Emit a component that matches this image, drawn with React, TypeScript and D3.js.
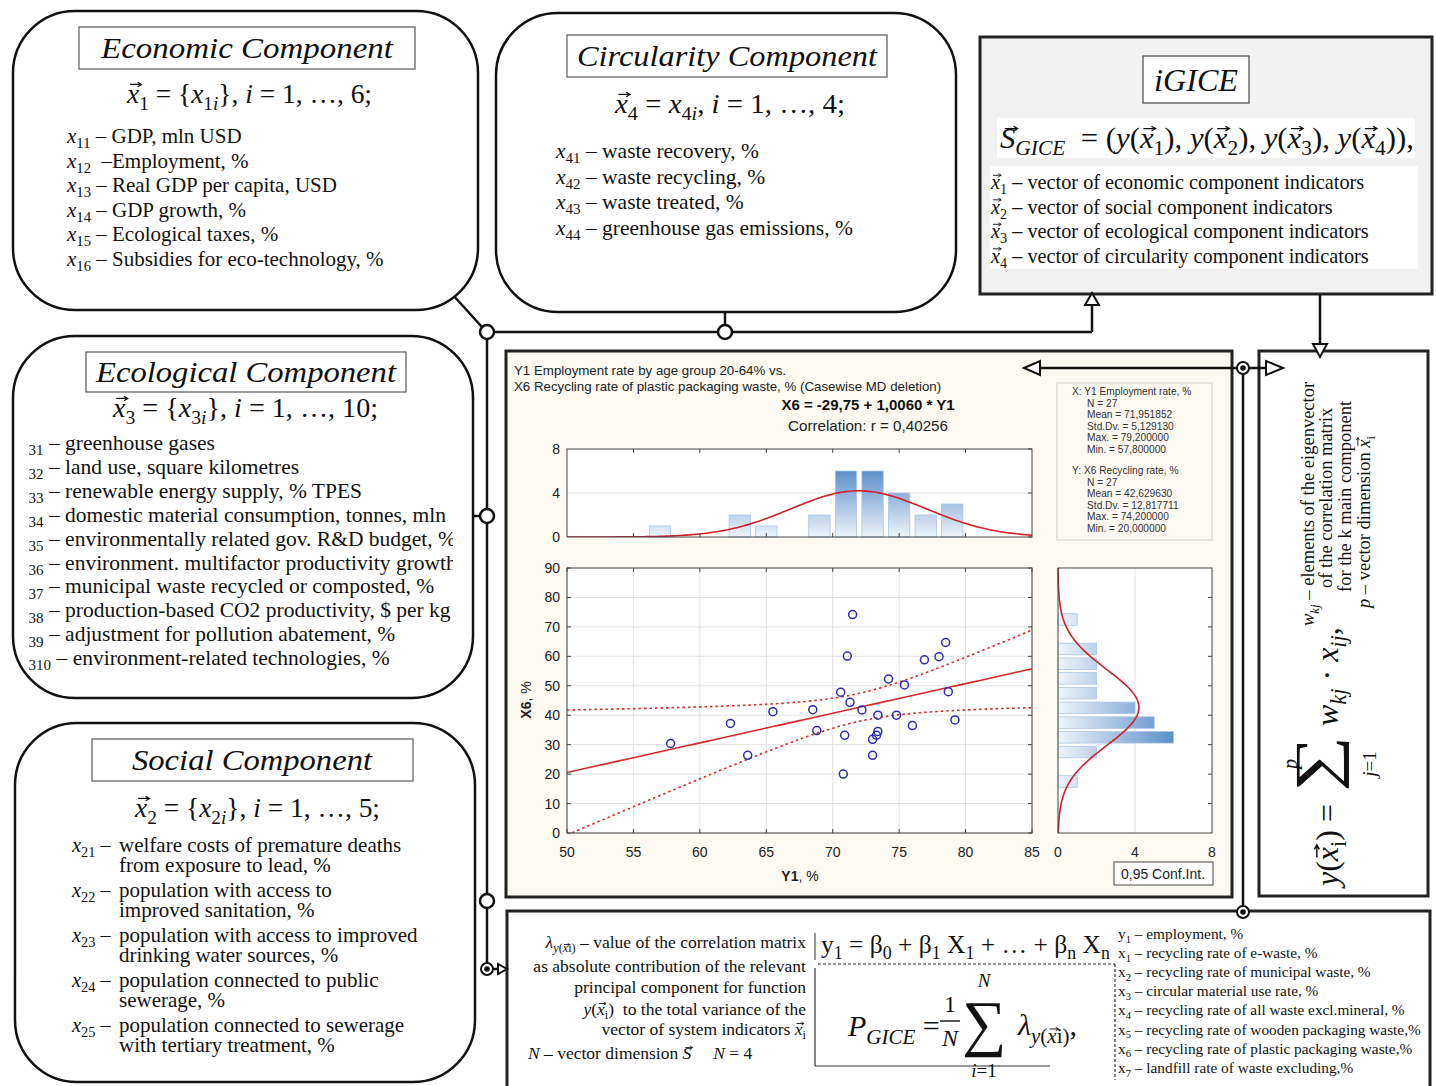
import { useLayoutEffect, useRef } from 'react';
import * as d3 from 'd3';

const SERIF = '"Liberation Serif", "Times New Roman", serif';
const SANS = '"Liberation Sans", Arial, sans-serif';

// scatter: Y1 employment rate (x) vs X6 recycling rate of plastic packaging (y)
const y1Values = [57.8, 62.3, 63.6, 65.5, 68.5, 68.8, 70.6, 70.8, 70.9, 71.1, 71.3, 71.5, 72.2, 73.0, 73.0, 73.3, 73.4, 73.4, 74.2, 74.8, 75.4, 76.0, 76.9, 78.0, 78.5, 78.7, 79.2];
const x6Values = [30.4, 37.2, 26.4, 41.2, 41.9, 34.8, 47.8, 20.0, 33.2, 60.1, 44.4, 74.2, 41.8, 31.8, 26.4, 33.2, 34.5, 40.0, 52.3, 40.0, 50.3, 36.5, 58.8, 59.9, 64.7, 48.0, 38.4];

const intercept = -29.75;
const slope = 1.006;
const y1Mean = 71.951852;
const y1Sd = 5.12913;
const x6Mean = 42.62963;
const x6Sd = 12.817711;
const tCrit = 2.0595;

const xStatLines = ['N = 27', 'Mean = 71,951852', 'Std.Dv. = 5,129130', 'Max. = 79,200000', 'Min. = 57,800000'];
const yStatLines = ['N = 27', 'Mean = 42,629630', 'Std.Dv. = 12,817711', 'Max. = 74,200000', 'Min. = 20,000000'];

const scatterXTicks = [50, 55, 60, 65, 70, 75, 80, 85];
const scatterYTicks = [0, 10, 20, 30, 40, 50, 60, 70, 80, 90];
const histTicks = [0, 4, 8];

// markup: *..* italic, _{..} subscript, ^{..} superscript, #x vector letter
const economicItems = [
  '*x*_{11} – GDP, mln USD',
  '*x*_{12}  –Employment, %',
  '*x*_{13} – Real GDP per capita, USD',
  '*x*_{14} – GDP growth, %',
  '*x*_{15} – Ecological taxes, %',
  '*x*_{16} – Subsidies for eco-technology, %',
];
const circularityItems = [
  '*x*_{41} – waste recovery, %',
  '*x*_{42} – waste recycling, %',
  '*x*_{43} – waste treated, %',
  '*x*_{44} – greenhouse gas emissions, %',
];
const ecologicalItems = [
  '*x*_{31} – greenhouse gases',
  '*x*_{32} – land use, square kilometres',
  '*x*_{33} – renewable energy supply, % TPES',
  '*x*_{34} – domestic material consumption, tonnes, mln',
  '*x*_{35} – environmentally related gov. R&D budget, %',
  '*x*_{36} – environment. multifactor productivity growth',
  '*x*_{37} – municipal waste recycled or composted, %',
  '*x*_{38} – production-based CO2 productivity, $ per kg',
  '*x*_{39} – adjustment for pollution abatement, %',
  '*x*_{310} – environment-related technologies, %',
];
const socialItems = [
  ['*x*_{21} –', 'welfare costs of premature deaths', 'from exposure to lead, %'],
  ['*x*_{22} –', 'population with access to', 'improved sanitation, %'],
  ['*x*_{23} –', 'population with access to improved', 'drinking water sources, %'],
  ['*x*_{24} –', 'population connected to public', 'sewerage, %'],
  ['*x*_{25} –', 'population connected to sewerage', 'with tertiary treatment, %'],
];
const igiceItems = [
  '*#x*_{1} – vector of economic component indicators',
  '*#x*_{2} – vector of social component indicators',
  '*#x*_{3} – vector of ecological component indicators',
  '*#x*_{4} – vector of circularity component indicators',
];
const lambdaLines = [
  '*λ*_{*y*(*#x*i)} – value of the correlation matrix',
  'as absolute contribution of the relevant',
  'principal component for function',
  '*y*(*#x*_{i})  to the total variance of the',
  'vector of system indicators *#x*_{i}',
];
const variableItems = [
  'y_{1} – employment, %',
  'x_{1} – recycling rate of e-waste, %',
  'x_{2} – recycling rate of municipal waste, %',
  'x_{3} – circular material use rate, %',
  'x_{4} – recycling rate of all waste excl.mineral, %',
  'x_{5} – recycling rate of wooden packaging waste,%',
  'x_{6} – recycling rate of plastic packaging waste,%',
  'x_{7} – landfill rate of waste excluding,%',
];

type Seg = { t: string; shift: number; it: boolean; vec: boolean };

function parseRich(src: string): Seg[] {
  const segs: Seg[] = [];
  let it = false;
  let shift = 0;
  let buf = '';
  const push = () => {
    if (buf) segs.push({ t: buf, shift, it, vec: false });
    buf = '';
  };
  for (let i = 0; i < src.length; i++) {
    const c = src[i];
    if (c === '*') {
      push();
      it = !it;
    } else if (c === '#') {
      push();
      segs.push({ t: src[i + 1], shift, it, vec: true });
      i++;
    } else if ((c === '_' || c === '^') && src[i + 1] === '{') {
      push();
      shift = c === '_' ? 1 : -1;
      i++;
    } else if (c === '}' && shift !== 0) {
      push();
      shift = 0;
    } else buf += c;
  }
  push();
  return segs;
}

function Rich({
  x = 0,
  y = 0,
  text,
  size,
  anchor = 'start',
  family = SERIF,
  italic = false,
  fill = '#111',
  transform,
  textLength,
}: {
  x?: number;
  y?: number;
  text: string;
  size: number;
  anchor?: string;
  family?: string;
  italic?: boolean;
  fill?: string;
  transform?: string;
  textLength?: number;
}) {
  let cur = 0;
  return (
    <text
      x={x}
      y={y}
      fontSize={size}
      fontFamily={family}
      textAnchor={anchor}
      fill={fill}
      transform={transform}
      textLength={textLength}
      lengthAdjust={textLength ? 'spacingAndGlyphs' : undefined}
      style={{ whiteSpace: 'pre' }}
    >
      {parseRich(text).map((s, i) => {
        const target = s.shift === 1 ? size * 0.25 : s.shift === -1 ? -size * 0.42 : 0;
        const dy = target - cur;
        cur = target;
        return (
          <tspan
            key={i}
            className={s.vec ? 'vec' : undefined}
            dy={dy || undefined}
            fontSize={s.shift ? size * 0.7 : undefined}
            fontStyle={s.it !== italic ? 'italic' : 'normal'}
          >
            {s.t}
          </tspan>
        );
      })}
    </text>
  );
}

function TitleBox({ x, y, w, h, label, cx, by, len }: { x: number; y: number; w: number; h: number; label: string; cx: number; by: number; len: number }) {
  return (
    <g>
      <rect x={x} y={y} width={w} height={h} fill="#fff" stroke="#666" strokeWidth={1.3} />
      <text x={cx} y={by} fontFamily={SERIF} fontStyle="italic" fontSize={30} textAnchor="middle" fill="#111" textLength={len} lengthAdjust="spacingAndGlyphs">
        {label}
      </text>
    </g>
  );
}

const pdf = (v: number, m: number, s: number) => Math.exp(-0.5 * ((v - m) / s) ** 2) / (s * Math.sqrt(2 * Math.PI));

export default function App() {
  const svgRef = useRef<SVGSVGElement>(null);
  const n = y1Values.length;

  // little arrows over vector letters, placed from the laid-out glyphs
  useLayoutEffect(() => {
    const draw = () => {
      const svg = svgRef.current;
      if (!svg) return;
      const layer = d3.select(svg).select('#vecLayer');
      layer.selectAll('*').remove();
      svg.querySelectorAll('tspan.vec').forEach((node) => {
        const ts = node as SVGTSpanElement;
        const bb = ts.getBBox();
        const textEl = ts.closest('text');
        if (!textEl || !bb.width) return;
        const fs = parseFloat(getComputedStyle(ts).fontSize);
        const base = bb.y + bb.height * 0.805;
        const yy = base - fs * 0.66;
        const x0 = bb.x + bb.width * 0.3;
        const x1 = bb.x + bb.width + fs * 0.06;
        const h = fs * 0.08;
        layer
          .append('path')
          .attr('transform', textEl.getAttribute('transform') || null)
          .attr('d', `M${x0},${yy}H${x1}M${x1 - h * 1.7},${yy - h}L${x1},${yy}L${x1 - h * 1.7},${yy + h}`)
          .attr('fill', 'none')
          .attr('stroke', '#111')
          .attr('stroke-width', Math.max(0.9, fs * 0.045));
      });
    };
    draw();
    if (document.fonts) document.fonts.ready.then(draw);
  }, []);

  const xS = d3.scaleLinear().domain([50, 85]).range([567, 1032]);
  const yS = d3.scaleLinear().domain([0, 90]).range([833, 568]);
  const topY = d3.scaleLinear().domain([0, 8]).range([537, 449]);
  const rightX = d3.scaleLinear().domain([0, 8]).range([1058, 1212]);

  // right-closed bins, like the source histograms
  const topBins = d3.range(50, 84, 2).map((lo) => ({ lo, hi: lo + 2, count: y1Values.filter((v) => v > lo && v <= lo + 2).length }));
  const rightBins = d3.range(0, 90, 5).map((lo) => ({ lo, hi: lo + 5, count: x6Values.filter((v) => v > lo && v <= lo + 5).length }));

  // regression + 95% confidence band
  const fit = (v: number) => intercept + slope * v;
  const xMean = d3.mean(y1Values) as number;
  const sxx = d3.sum(y1Values, (v) => (v - xMean) ** 2);
  const sRes = Math.sqrt(d3.sum(y1Values.map((v, i) => (x6Values[i] - fit(v)) ** 2)) / (n - 2));
  const band = (v: number, sign: number) => fit(v) + sign * tCrit * sRes * Math.sqrt(1 / n + (v - xMean) ** 2 / sxx);
  const xs = d3.range(50, 85.01, 0.5);
  const line = d3.line<number>().x((v) => xS(v)).y((v) => yS(fit(v)));
  const upper = d3.line<number>().x((v) => xS(v)).y((v) => yS(band(v, 1)));
  const lower = d3.line<number>().x((v) => xS(v)).y((v) => yS(band(v, -1)));

  const topCurve = d3
    .line<number>()
    .x((v) => xS(v))
    .y((v) => topY(n * 2 * pdf(v, y1Mean, y1Sd)))
    .curve(d3.curveBasis)(d3.range(50, 85.01, 0.25));
  const rightCurve = d3
    .line<number>()
    .x((v) => rightX(n * 5 * pdf(v, x6Mean, x6Sd)))
    .y((v) => yS(v))
    .curve(d3.curveBasis)(d3.range(0, 90.01, 0.5));

  const circle = (cx: number, cy: number, key: string) => <circle key={key} cx={cx} cy={cy} r={7} fill="#fff" stroke="#111" strokeWidth={2.5} />;
  const target = (cx: number, cy: number, key: string) => (
    <g key={key}>
      <circle cx={cx} cy={cy} r={6} fill="#fff" stroke="#111" strokeWidth={2} />
      <circle cx={cx} cy={cy} r={2.8} fill="#111" />
    </g>
  );

  return (
    <svg ref={svgRef} width={1436} height={1086} style={{ position: 'absolute', left: 0, top: 0, background: '#fff' }} fontFamily={SERIF}>
      <defs>
        <clipPath id="ecoClip">
          <rect x={29} y={425} width={424} height={260} />
        </clipPath>
        <clipPath id="varClip">
          <rect x={1110} y={920} width={316} height={160} />
        </clipPath>
        <clipPath id="plotClip">
          <rect x={567} y={568} width={465} height={265} />
        </clipPath>
        <clipPath id="topClip">
          <rect x={567} y={449} width={465} height={88} />
        </clipPath>
        <linearGradient id="gTop" gradientUnits="userSpaceOnUse" x1={0} y1={537} x2={0} y2={449}>
          <stop offset="0" stopColor="#eef4fb" />
          <stop offset="1" stopColor="#2d6db8" />
        </linearGradient>
        <linearGradient id="gRight" gradientUnits="userSpaceOnUse" x1={1058} y1={0} x2={1212} y2={0}>
          <stop offset="0" stopColor="#eef4fb" />
          <stop offset="1" stopColor="#2d6db8" />
        </linearGradient>
      </defs>

      {/* connectors (drawn first) */}
      <g stroke="#111" strokeWidth={2.5} fill="none">
        <line x1={452} y1={294} x2={482} y2={327} />
        <line x1={487} y1={332} x2={487} y2={969} />
        <line x1={487} y1={332} x2={1092} y2={332} />
        <line x1={1092} y1={332} x2={1092} y2={304} />
        <line x1={725} y1={312} x2={725} y2={325} />
        <line x1={472} y1={516} x2={487} y2={516} />
        <line x1={1320} y1={294} x2={1320} y2={344} />
        <line x1={487} y1={969} x2={499} y2={969} />
      </g>

      {/* Economic component */}
      <rect x={13} y={11} width={465} height={299} rx={62} fill="#fff" stroke="#111" strokeWidth={2.5} />
      <TitleBox x={79} y={27} w={336} h={42} label="Economic Component" cx={247} by={58} len={292} />
      <Rich x={127} y={103} size={28} textLength={245} text="*#x*_{1} = {*x*_{1*i*}}, *i* = 1, …, 6;" />
      {economicItems.map((t, i) => (
        <Rich key={t} x={67} y={143 + i * 24.5} size={21} text={t} />
      ))}

      {/* Circularity component */}
      <rect x={496} y={13} width={460} height={299} rx={62} fill="#fff" stroke="#111" strokeWidth={2.5} />
      <TitleBox x={567} y={35} w={320} h={42} label="Circularity Component" cx={727} by={66} len={300} />
      <Rich x={615} y={113} size={28} textLength={230} text="*#x*_{4} = *x*_{4*i*}, *i* = 1, …, 4;" />
      {circularityItems.map((t, i) => (
        <Rich key={t} x={556} y={158 + i * 25.5} size={21.5} text={t} />
      ))}

      {/* Ecological component */}
      <rect x={13} y={336} width={460} height={362} rx={62} fill="#fff" stroke="#111" strokeWidth={2.5} />
      <TitleBox x={86} y={352} w={320} h={40} label="Ecological Component" cx={246} by={382} len={300} />
      <Rich x={113} y={417} size={28} textLength={265} text="*#x*_{3} = {*x*_{3*i*}}, *i* = 1, …, 10;" />
      <g clipPath="url(#ecoClip)">
        {ecologicalItems.map((t, i) => (
          <Rich key={t} x={19} y={450 + i * 23.9} size={21.5} text={t} />
        ))}
      </g>

      {/* Social component */}
      <rect x={15} y={723} width={460} height={359} rx={62} fill="#fff" stroke="#111" strokeWidth={2.5} />
      <TitleBox x={92} y={739} w={321} h={42} label="Social Component" cx={252} by={770} len={240} />
      <Rich x={135} y={817} size={28} textLength={245} text="*#x*_{2} = {*x*_{2*i*}}, *i* = 1, …, 5;" />
      {socialItems.map(([lab, a, b], i) => (
        <g key={lab}>
          <Rich x={72} y={852 + i * 45} size={20.5} text={lab} />
          <text x={119} y={852 + i * 45} fontSize={21} fill="#111">{a}</text>
          <text x={119} y={872 + i * 45} fontSize={21} fill="#111">{b}</text>
        </g>
      ))}

      {/* iGICE */}
      <rect x={980} y={37} width={452} height={257} fill="#f1f1f1" stroke="#222" strokeWidth={3} />
      <rect x={1143} y={56} width={106} height={47} fill="#fff" stroke="#555" strokeWidth={1.3} />
      <text x={1196} y={91} fontSize={31} fontStyle="italic" textAnchor="middle" fill="#111" textLength={84} lengthAdjust="spacingAndGlyphs">
        iGICE
      </text>
      <rect x={997} y={118} width={418} height={40} fill="#fff" />
      <Rich x={1000} y={148} size={29} textLength={414} text="*#S*_{*GICE*}  = (*y*(*#x*_{1}), *y*(*#x*_{2}), *y*(*#x*_{3}), *y*(*#x*_{4}))," />
      <rect x={990} y={166} width={428} height={103} fill="#fff" />
      {igiceItems.map((t, i) => (
        <Rich key={t} x={991} y={189 + i * 24.5} size={20.3} text={t} />
      ))}

      {/* chart panel */}
      <rect x={506} y={351} width={726} height={546} fill="#fbf9f2" stroke="#222" strokeWidth={3} />
      <text x={514} y={375} fontFamily={SANS} fontSize={13.3} fill="#222">Y1 Employment rate by age group 20-64% vs.</text>
      <text x={514} y={391} fontFamily={SANS} fontSize={13.3} fill="#222">X6 Recycling rate of plastic packaging waste, % (Casewise MD deletion)</text>
      <text x={868} y={410} fontFamily={SANS} fontSize={15} fontWeight="bold" textAnchor="middle" fill="#111">X6 = -29,75 + 1,0060 * Y1</text>
      <text x={868} y={431} fontFamily={SANS} fontSize={15.2} textAnchor="middle" fill="#222">Correlation: r = 0,40256</text>

      {/* stats box */}
      <rect x={1057} y={383} width={155} height={157} fill="#fbf9f2" stroke="#cfcfcf" />
      <g fontFamily={SANS} fontSize={10.2} fill="#333">
        <text x={1072} y={395}>X:  Y1 Employment rate, %</text>
        {xStatLines.map((t, i) => (
          <text key={'x' + t} x={1087} y={406.5 + i * 11.6}>{t}</text>
        ))}
        <text x={1072} y={474}>Y:  X6 Recycling rate, %</text>
        {yStatLines.map((t, i) => (
          <text key={'y' + t} x={1087} y={485.5 + i * 11.6}>{t}</text>
        ))}
      </g>

      {/* top histogram (Y1) */}
      <rect x={567} y={449} width={465} height={88} fill="#fff" />
      <line x1={567} x2={1032} y1={topY(4)} y2={topY(4)} stroke="#e2e2e2" />
      {topBins
        .filter((b) => b.count > 0)
        .map((b) => (
          <rect
            key={b.lo}
            x={xS(b.lo) + 2.6}
            y={topY(b.count)}
            width={xS(b.hi) - xS(b.lo) - 5.2}
            height={topY(0) - topY(b.count)}
            fill="url(#gTop)"
            stroke="#a9c6e6"
            strokeWidth={0.8}
          />
        ))}
      <path d={topCurve || ''} fill="none" stroke="#d0202a" strokeWidth={1.6} clipPath="url(#topClip)" />
      <rect x={567} y={449} width={465} height={88} fill="none" stroke="#444" />
      {scatterXTicks.slice(1, -1).map((t) => (
        <g key={'tt' + t} stroke="#444">
          <line x1={xS(t)} x2={xS(t)} y1={449} y2={453} />
          <line x1={xS(t)} x2={xS(t)} y1={537} y2={533} />
        </g>
      ))}
      {histTicks.map((t) => (
        <g key={'ht' + t}>
          <line x1={1032} x2={1028} y1={topY(t)} y2={topY(t)} stroke="#444" />
          <text x={560} y={topY(t) + 5} fontFamily={SANS} fontSize={14} textAnchor="end" fill="#222">{t}</text>
        </g>
      ))}

      {/* scatter */}
      <rect x={567} y={568} width={465} height={265} fill="#fff" />
      {scatterXTicks.map((t) => (
        <line key={'gx' + t} x1={xS(t)} x2={xS(t)} y1={568} y2={833} stroke="#e2e2e2" />
      ))}
      {scatterYTicks.map((t) => (
        <line key={'gy' + t} x1={567} x2={1032} y1={yS(t)} y2={yS(t)} stroke="#e2e2e2" />
      ))}
      <g clipPath="url(#plotClip)" fill="none" stroke="#d42a2a" strokeWidth={1.6}>
        <path d={line(xs) || ''} />
        <path d={upper(xs) || ''} strokeDasharray="2.5,3" />
        <path d={lower(xs) || ''} strokeDasharray="2.5,3" />
      </g>
      {y1Values.map((v, i) => (
        <circle key={'p' + i} cx={xS(v)} cy={yS(x6Values[i])} r={4} fill="none" stroke="#2b2bb0" strokeWidth={1.5} />
      ))}
      <rect x={567} y={568} width={465} height={265} fill="none" stroke="#444" />
      {scatterXTicks.map((t) => (
        <g key={'xt' + t}>
          <line x1={xS(t)} x2={xS(t)} y1={833} y2={829} stroke="#444" />
          <line x1={xS(t)} x2={xS(t)} y1={568} y2={572} stroke="#444" />
          <text x={xS(t)} y={857} fontFamily={SANS} fontSize={14} textAnchor="middle" fill="#222">{t}</text>
        </g>
      ))}
      {scatterYTicks.map((t) => (
        <g key={'yt' + t}>
          <line x1={567} x2={571} y1={yS(t)} y2={yS(t)} stroke="#444" />
          <line x1={1032} x2={1028} y1={yS(t)} y2={yS(t)} stroke="#444" />
          <text x={560} y={yS(t) + 5} fontFamily={SANS} fontSize={14} textAnchor="end" fill="#222">{t}</text>
        </g>
      ))}
      <text transform="translate(531,700) rotate(-90)" fontFamily={SANS} fontSize={14} textAnchor="middle" fill="#222">
        <tspan fontWeight="bold">X6</tspan>, %
      </text>
      <text x={800} y={881} fontFamily={SANS} fontSize={14} textAnchor="middle" fill="#222">
        <tspan fontWeight="bold">Y1</tspan>, %
      </text>

      {/* right histogram (X6) */}
      <rect x={1058} y={568} width={154} height={265} fill="#fff" />
      <line x1={rightX(4)} x2={rightX(4)} y1={568} y2={833} stroke="#e2e2e2" />
      {rightBins
        .filter((b) => b.count > 0)
        .map((b) => (
          <rect
            key={b.lo}
            x={rightX(0)}
            y={yS(b.hi) + 1.6}
            width={rightX(b.count) - rightX(0)}
            height={yS(b.lo) - yS(b.hi) - 3.2}
            fill="url(#gRight)"
            stroke="#a9c6e6"
            strokeWidth={0.8}
          />
        ))}
      <path d={rightCurve || ''} fill="none" stroke="#d0202a" strokeWidth={1.6} />
      <rect x={1058} y={568} width={154} height={265} fill="none" stroke="#444" />
      {scatterYTicks.slice(1, -1).map((t) => (
        <line key={'rt' + t} x1={1212} x2={1208} y1={yS(t)} y2={yS(t)} stroke="#444" />
      ))}
      {histTicks.map((t) => (
        <text key={'rx' + t} x={rightX(t)} y={857} fontFamily={SANS} fontSize={14} textAnchor="middle" fill="#222">{t}</text>
      ))}
      <rect x={1114} y={862} width={99} height={23} fill="#fff" stroke="#444" />
      <text x={1163} y={879} fontFamily={SANS} fontSize={14} textAnchor="middle" fill="#222">0,95 Conf.Int.</text>

      {/* right formula panel (rotated) */}
      <rect x={1259} y={351} width={169} height={545} fill="#fff" stroke="#222" strokeWidth={3} />
      <Rich transform="translate(1338,886) rotate(-90)" size={32} text="*y*(*#x*_{i}) =" />
      <text transform="translate(1336,792) rotate(-90)" fontSize={60} fill="#111" textLength={56} lengthAdjust="spacingAndGlyphs">∑</text>
      <text transform="translate(1297,764) rotate(-90)" fontSize={20} fontStyle="italic" textAnchor="middle" fill="#111">p</text>
      <text transform="translate(1376,764) rotate(-90)" fontSize={19} textAnchor="middle" fill="#111">
        <tspan fontStyle="italic">j</tspan>=1
      </text>
      <Rich transform="translate(1338,726) rotate(-90)" size={32} text="*w*_{*kj*} · *x*_{*ij*}," />
      <Rich transform="translate(1314,626) rotate(-90)" size={18.5} text="*w*_{*kj*} – elements of the eigenvector" />
      <Rich transform="translate(1332,588) rotate(-90)" size={18.5} text="of the correlation matrix" />
      <Rich transform="translate(1351,592) rotate(-90)" size={18.5} text="for the k main component" />
      <Rich transform="translate(1370,608) rotate(-90)" size={18.5} text="*p* – vector dimension *#x*_{i}" />

      {/* bottom formula panel */}
      <rect x={507} y={911} width={923} height={185} fill="#fff" stroke="#222" strokeWidth={3} />
      {lambdaLines.map((t, i) => (
        <Rich key={t} x={806} y={[948, 972, 993, 1015, 1035][i]} size={17.5} anchor="end" text={t} />
      ))}
      <Rich x={528} y={1059} size={17.5} text="*N* – vector dimension *#S*     *N* = 4" />
      <line x1={815} x2={815} y1={933} y2={960} stroke="#333" strokeWidth={1} />
      <Rich x={821} y={953} size={25.5} text="y_{1} = β_{0} + β_{1} X_{1} + … + β_{n} X_{n}" />
      <g stroke="#333" strokeWidth={1.2} fill="none">
        <line x1={818} x2={1115} y1={964} y2={964} strokeDasharray="3,2" />
        <line x1={1115} x2={1115} y1={964} y2={1080} strokeDasharray="3,2" />
        <line x1={815} x2={815} y1={968} y2={1066} />
        <line x1={815} x2={1050} y1={1066} y2={1066} />
      </g>
      <Rich x={848} y={1036} size={30} text="*P*_{*GICE*} =" />
      <text x={950} y={1012} fontSize={24} textAnchor="middle" fill="#111">1</text>
      <line x1={940} x2={960} y1={1021} y2={1021} stroke="#111" strokeWidth={1.4} />
      <text x={950} y={1046} fontSize={24} fontStyle="italic" textAnchor="middle" fill="#111">N</text>
      <text x={984} y={1044} fontSize={62} textAnchor="middle" fill="#111">∑</text>
      <text x={984} y={987} fontSize={19} fontStyle="italic" textAnchor="middle" fill="#111">N</text>
      <text x={984} y={1077} fontSize={19} textAnchor="middle" fill="#111">
        <tspan fontStyle="italic">i</tspan>=1
      </text>
      <Rich x={1018} y={1035} size={30} text="*λ*_{*y*(*#x*i)}," />
      <g clipPath="url(#varClip)">
        {variableItems.map((t, i) => (
          <Rich key={t} x={1118} y={939 + i * 19.1} size={15.3} text={t} />
        ))}
      </g>

      {/* arrows / junctions on top */}
      <g stroke="#111" strokeWidth={2.5} fill="none">
        <line x1={1040} y1={368} x2={1266} y2={368} />
        <line x1={1243} y1={368} x2={1243} y2={912} />
      </g>
      <g fill="#fff" stroke="#111" strokeWidth={2}>
        <polygon points="1092,293 1085,305 1099,305" />
        <polygon points="1320,357 1313,344 1327,344" />
        <polygon points="1024,368 1040,361 1040,375" />
        <polygon points="1283,368 1266,361 1266,375" />
        <polygon points="507,969 498,964 498,974" />
      </g>
      {circle(487, 332, 'c1')}
      {circle(725, 332, 'c2')}
      {circle(487, 516, 'c3')}
      {circle(487, 901, 'c4')}
      {target(1243, 368, 't1')}
      {target(1243, 912, 't2')}
      {target(487, 969, 't3')}
      <g id="vecLayer" />
    </svg>
  );
}
